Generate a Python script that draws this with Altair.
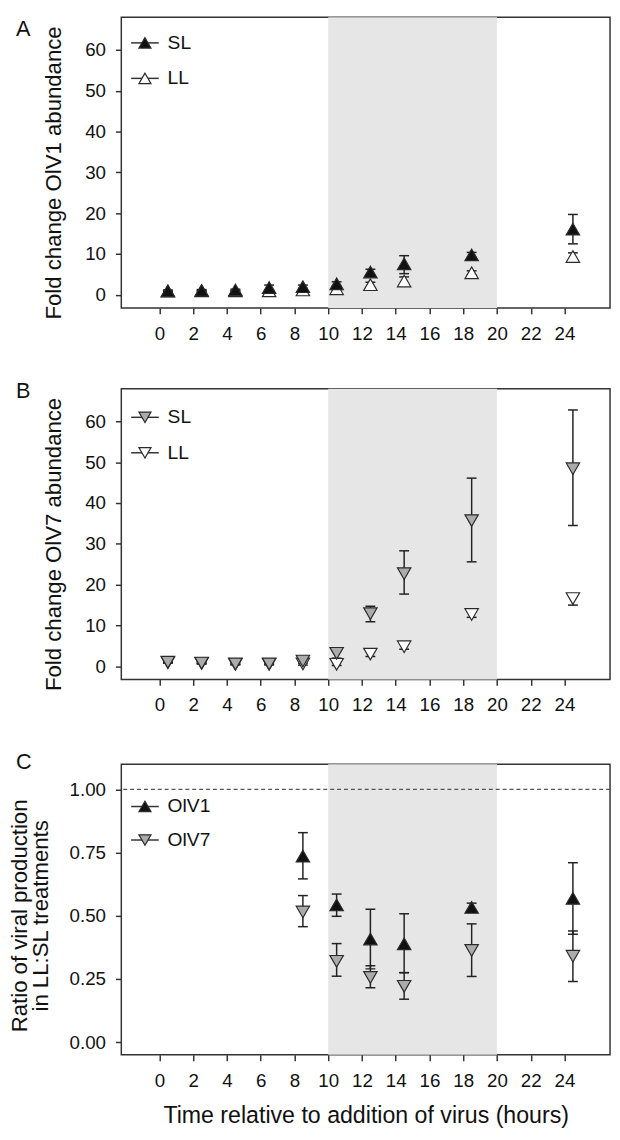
import altair as alt
import pandas as pd

# ---------------- data ----------------
times = [0.5, 2.5, 4.5, 6.5, 8.5, 10.5, 12.5, 14.5, 18.5, 24.5]

# Panel A: OlV1 fold change
olv1_sl = [1.0, 1.1, 1.2, 1.8, 2.0, 2.7, 5.6, 7.6, 9.8, 16.1]
olv1_sl_lo = [0.8, 0.9, 1.0, 1.2, 1.6, 2.2, 4.9, 5.2, 9.2, 12.5]
olv1_sl_hi = [1.2, 1.3, 1.4, 2.4, 2.4, 3.2, 6.3, 9.6, 10.4, 19.7]
olv1_ll = [0.9, 1.0, 1.0, 1.0, 1.2, 1.5, 2.5, 3.4, 5.4, 9.4]
olv1_ll_lo = [0.8, 0.9, 0.9, 0.8, 1.0, 1.2, 1.8, 2.5, 4.9, 8.6]
olv1_ll_hi = [1.0, 1.1, 1.1, 1.2, 1.4, 1.8, 3.1, 4.4, 5.9, 10.3]

# Panel B: OlV7 fold change
olv7_sl = [1.0, 0.8, 0.6, 0.6, 1.3, 3.2, 12.9, 22.7, 35.7, 48.4]
olv7_sl_lo = [0.8, 0.6, 0.4, 0.4, 0.8, 2.0, 10.9, 17.7, 25.6, 34.5]
olv7_sl_hi = [1.2, 1.0, 0.8, 0.8, 2.2, 3.8, 14.7, 28.3, 46.1, 62.8]
olv7_ll = [0.9, 0.7, 0.5, 0.5, 0.6, 0.5, 3.0, 4.8, 12.7, 16.6]
olv7_ll_lo = [0.8, 0.6, 0.4, 0.4, 0.3, 0.2, 2.4, 4.2, 12.0, 15.0]
olv7_ll_hi = [1.0, 0.8, 0.6, 0.6, 1.7, 1.4, 3.7, 5.6, 13.4, 17.5]

# Panel C: LL:SL ratio
ratio_times = [8.5, 10.5, 12.5, 14.5, 18.5, 24.5]
ratio_olv1 = [0.736, 0.543, 0.408, 0.389, 0.533, 0.569]
ratio_olv1_lo = [0.646, 0.498, 0.290, 0.275, 0.520, 0.427]
ratio_olv1_hi = [0.829, 0.586, 0.526, 0.508, 0.550, 0.710]
ratio_olv7 = [0.515, 0.320, 0.256, 0.221, 0.363, 0.340]
ratio_olv7_lo = [0.457, 0.261, 0.215, 0.170, 0.260, 0.240]
ratio_olv7_hi = [0.580, 0.390, 0.302, 0.275, 0.468, 0.440]

shade_start = [10]
shade_end = [20]
ref_line = [1.0]

x_ticks = [0, 2, 4, 6, 8, 10, 12, 14, 16, 18, 20, 22, 24]
fold_ticks = [0, 10, 20, 30, 40, 50, 60]
ratio_ticks = [0.0, 0.25, 0.5, 0.75, 1.0]

panel_letters = ["A", "B", "C"]
treatments = ["SL", "LL"]
viruses = ["OlV1", "OlV7"]

x_title = "Time relative to addition of virus (hours)"
y_title_a = "Fold change OlV1 abundance"
y_title_b = "Fold change OlV7 abundance"
y_title_c = ["Ratio of viral production", "in LL:SL treatments"]

# ---------------- styling ----------------
W, H = 496, 295
FONT = "Liberation Sans, Arial, Helvetica, sans-serif"
INK = "#222222"
GREY = "#ababab"
SHADE = "#e6e6e6"
MSIZE = 185

x_scale = alt.Scale(domain=[-2.26, 26.7], nice=False, zero=False)
fold_scale = alt.Scale(domain=[-3.2, 68.0], nice=False, zero=False)
ratio_scale = alt.Scale(domain=[-0.05, 1.1], nice=False, zero=False)


def xenc(field, show_title):
    ax = alt.Axis(values=x_ticks, labelPadding=11, labelFlush=False, titlePadding=14)
    if show_title:
        return alt.X(field, scale=x_scale, axis=ax, title=x_title)
    return alt.X(field, scale=x_scale, axis=ax, title=None)


def yenc(field, scale, ticks, title, fmt, tpad, ty):
    ax = alt.Axis(values=ticks, format=fmt, labelPadding=10, titlePadding=tpad,
                  titleY=ty, titleLineHeight=21)
    return alt.Y(field, scale=scale, axis=ax, title=title)


def series_df(t, v, lo, hi):
    return pd.DataFrame({"time": t, "value": v, "lo": lo, "hi": hi})


def panel(series, scale, ticks, title, fmt, tpad, ty, show_x_title, letter, letter_y,
          legend_y, draw_order, with_ref=False):
    X = lambda f: xenc(f, show_x_title)
    Y = lambda f: yenc(f, scale, ticks, title, fmt, tpad, ty)
    layers = []
    shade_df = pd.DataFrame({"time": shade_start, "time_end": shade_end})
    layers.append(
        alt.Chart(shade_df).mark_rect(color=SHADE).encode(
            x=X("time:Q"), x2="time_end:Q", y=alt.value(0), y2=alt.value(H)
        )
    )
    if with_ref:
        layers.append(
            alt.Chart(pd.DataFrame({"value": ref_line})).mark_rule(
                color="#555555", strokeDash=[4, 3], strokeWidth=1.2
            ).encode(y=Y("value:Q"))
        )
    for i in draw_order:
        s = series[i]
        df = series_df(s["t"], s["v"], s["lo"], s["hi"])
        layers.append(
            alt.Chart(df).mark_rule(color=INK, strokeWidth=1.5).encode(
                x=X("time:Q"), y=Y("lo:Q"), y2="hi:Q"
            )
        )
        for f in ["lo", "hi"]:
            layers.append(
                alt.Chart(df).mark_tick(orient="horizontal", size=10, thickness=1.5,
                                        color=INK, opacity=1).encode(
                    x=X("time:Q"), y=Y(f + ":Q")
                )
            )
    for i in draw_order:
        s = series[i]
        df = series_df(s["t"], s["v"], s["lo"], s["hi"])
        layers.append(
            alt.Chart(df).mark_point(shape=s["shape"], filled=True, fill=s["fill"],
                                     stroke="#2a2a2a", strokeWidth=1.2, size=MSIZE,
                                     opacity=1).encode(
                x=X("time:Q"), y=Y("value:Q")
            )
        )
    # manual legend
    for s, ly in zip(series, legend_y):
        ldf = pd.DataFrame({"label": [s["label"]]})
        layers.append(
            alt.Chart(ldf).mark_rule(color="#333333", strokeWidth=1.5).encode(
                x=alt.value(10), x2=alt.value(38), y=alt.value(ly)
            )
        )
        layers.append(
            alt.Chart(ldf).mark_point(shape=s["shape"], filled=True, fill=s["fill"],
                                      stroke="#2a2a2a", strokeWidth=1.2, size=150,
                                      opacity=1).encode(
                x=alt.value(24), y=alt.value(ly)
            )
        )
        layers.append(
            alt.Chart(ldf).mark_text(align="left", baseline="middle", fontSize=19.5,
                                     font=FONT, color="#111111").encode(
                x=alt.value(47), y=alt.value(ly), text="label:N"
            )
        )
    layers.append(
        alt.Chart(pd.DataFrame({"letter": [letter]})).mark_text(
            align="left", baseline="middle", fontSize=22, font=FONT, color="#111111"
        ).encode(x=alt.value(-107), y=alt.value(letter_y), text="letter:N")
    )
    return alt.layer(*layers).properties(width=W, height=H)


series_a = [
    dict(label=treatments[0], t=times, v=olv1_sl, lo=olv1_sl_lo, hi=olv1_sl_hi,
         shape="triangle-up", fill="#111111"),
    dict(label=treatments[1], t=times, v=olv1_ll, lo=olv1_ll_lo, hi=olv1_ll_hi,
         shape="triangle-up", fill="#ffffff"),
]
series_b = [
    dict(label=treatments[0], t=times, v=olv7_sl, lo=olv7_sl_lo, hi=olv7_sl_hi,
         shape="triangle-down", fill=GREY),
    dict(label=treatments[1], t=times, v=olv7_ll, lo=olv7_ll_lo, hi=olv7_ll_hi,
         shape="triangle-down", fill="#ffffff"),
]
series_c = [
    dict(label=viruses[0], t=ratio_times, v=ratio_olv1, lo=ratio_olv1_lo, hi=ratio_olv1_hi,
         shape="triangle-up", fill="#111111"),
    dict(label=viruses[1], t=ratio_times, v=ratio_olv7, lo=ratio_olv7_lo, hi=ratio_olv7_hi,
         shape="triangle-down", fill=GREY),
]

pa = panel(series_a, fold_scale, fold_ticks, y_title_a, "d", 20, H / 2 + 10, False,
           panel_letters[0], 12, [26, 62], [1, 0])
pb = panel(series_b, fold_scale, fold_ticks, y_title_b, "d", 20, H / 2 + 10, False,
           panel_letters[1], 2, [29, 65], [1, 0])
pc = panel(series_c, ratio_scale, ratio_ticks, y_title_c, ".2f", 17, H / 2 + 6, True,
           panel_letters[2], -2, [43, 77], [1, 0], with_ref=True)

chart = (
    alt.vconcat(pa, pb, pc, spacing=35)
    .properties(padding=0, background="white")
    .configure_view(stroke="#333333", strokeWidth=1.5)
    .configure_axis(
        grid=False, domain=False,
        labelFont=FONT, titleFont=FONT,
        labelFontSize=19, titleFontSize=22.5, titleFontWeight="normal",
        labelColor="#111111", titleColor="#111111",
        tickColor="#333333", tickWidth=1.5, tickSize=6,
    )
    .configure_axisX(titleFontSize=23.5)
)

chart.save("out.html", embed_options={"renderer": "svg", "actions": False})
